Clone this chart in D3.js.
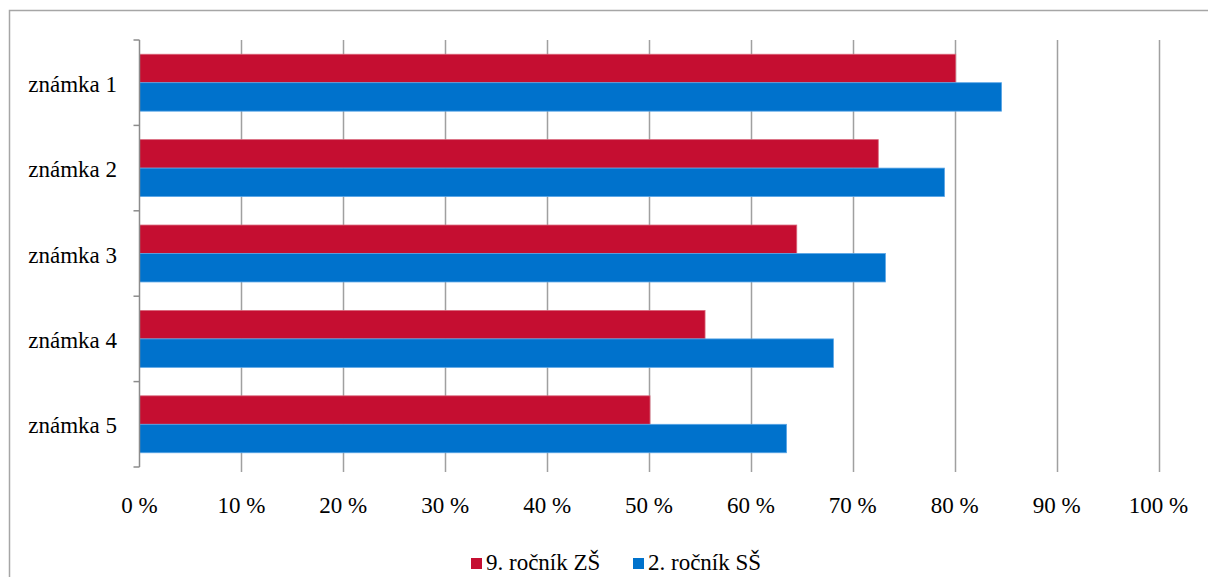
<!DOCTYPE html>
<html><head><meta charset="utf-8"><script src="https://cdn.jsdelivr.net/npm/d3@7"></script></head>
<body style="margin:0">
<svg id="chart" width="1208" height="577" style="display:block"></svg>
<script>
const categories = ["známka 1", "známka 2", "známka 3", "známka 4", "známka 5"];
const seriesNames = ["9. ročník ZŠ", "2. ročník SŠ"];
const seriesZS = [80.1, 72.5, 64.5, 55.5, 50.1];
const seriesSS = [84.6, 79.0, 73.2, 68.1, 63.5];
const xTicks = [0, 10, 20, 30, 40, 50, 60, 70, 80, 90, 100];
const colors = ["#C50E31", "#0072CC"];
const strokes = ["#D9667A", "#5AA6E6"];
const FONT = "Times New Roman";
const FS = 23;

const svg = d3.select("#chart");
const plot = { left: 139.5, right: 1158.5, top: 40, bottom: 467 };

svg.append("rect")
  .attr("x", 9.5).attr("y", 10.5)
  .attr("width", 1220).attr("height", 600)
  .attr("fill", "none").attr("stroke", "#A6A6A6").attr("stroke-width", 1.5);

const x = d3.scaleLinear().domain([0, 100]).range([plot.left, plot.right]);
const y = d3.scaleBand().domain(categories).range([plot.top, plot.bottom])
  .paddingInner(1/3).paddingOuter(1/6);
const ySub = d3.scaleBand().domain([0, 1]).range([0, y.bandwidth()]);

svg.append("g").selectAll("line").data(xTicks.slice(1)).join("line")
  .attr("x1", d => Math.round(x(d)) + 0.5).attr("x2", d => Math.round(x(d)) + 0.5)
  .attr("y1", plot.top).attr("y2", plot.bottom + 5)
  .attr("stroke", "#A0A0A0").attr("stroke-width", 1.5);

svg.append("g").selectAll("text").data(xTicks).join("text")
  .attr("x", d => x(d)).attr("y", 513)
  .attr("text-anchor", "middle")
  .attr("font-size", FS).style("font-family", FONT)
  .text(d => d + " %");

const data = categories.map((c, i) => ({ cat: c, vals: [seriesZS[i], seriesSS[i]] }));
const groups = svg.append("g").selectAll("g").data(data).join("g")
  .attr("transform", d => `translate(0,${y(d.cat)})`);
groups.selectAll("rect").data(d => d.vals.map((v, k) => ({ v, k }))).join("rect")
  .attr("x", x(0))
  .attr("y", d => ySub(d.k))
  .attr("width", d => x(d.v) - x(0))
  .attr("height", ySub.bandwidth())
  .attr("fill", d => colors[d.k])
  .attr("stroke", d => strokes[d.k])
  .attr("stroke-width", 0.8);

const axisG = svg.append("g");
axisG.append("line")
  .attr("x1", plot.left).attr("x2", plot.left)
  .attr("y1", plot.top).attr("y2", plot.bottom)
  .attr("stroke", "#8C8C8C").attr("stroke-width", 1.5);
const catTicks = d3.range(categories.length + 1).map(i => plot.top + i * y.step());
axisG.selectAll("line.tk").data(catTicks).join("line").attr("class", "tk")
  .attr("x1", plot.left - 6).attr("x2", plot.left)
  .attr("y1", d => d).attr("y2", d => d)
  .attr("stroke", "#8C8C8C").attr("stroke-width", 1.5);

svg.append("g").selectAll("text").data(categories).join("text")
  .attr("x", 117).attr("y", d => y(d) + y.bandwidth() / 2 + 9)
  .attr("text-anchor", "end")
  .attr("font-size", FS).style("font-family", FONT)
  .text(d => d);

const legend = svg.append("g");
const legendItems = [{ name: seriesNames[0], x: 471 }, { name: seriesNames[1], x: 633 }];
legendItems.forEach((it, i) => {
  legend.append("rect").attr("x", it.x).attr("y", 558).attr("width", 11).attr("height", 11)
    .attr("fill", colors[i]);
  legend.append("text").attr("x", it.x + 15).attr("y", 570)
    .attr("font-size", FS).style("font-family", FONT).text(it.name);
});
</script>
</body>
</html>
